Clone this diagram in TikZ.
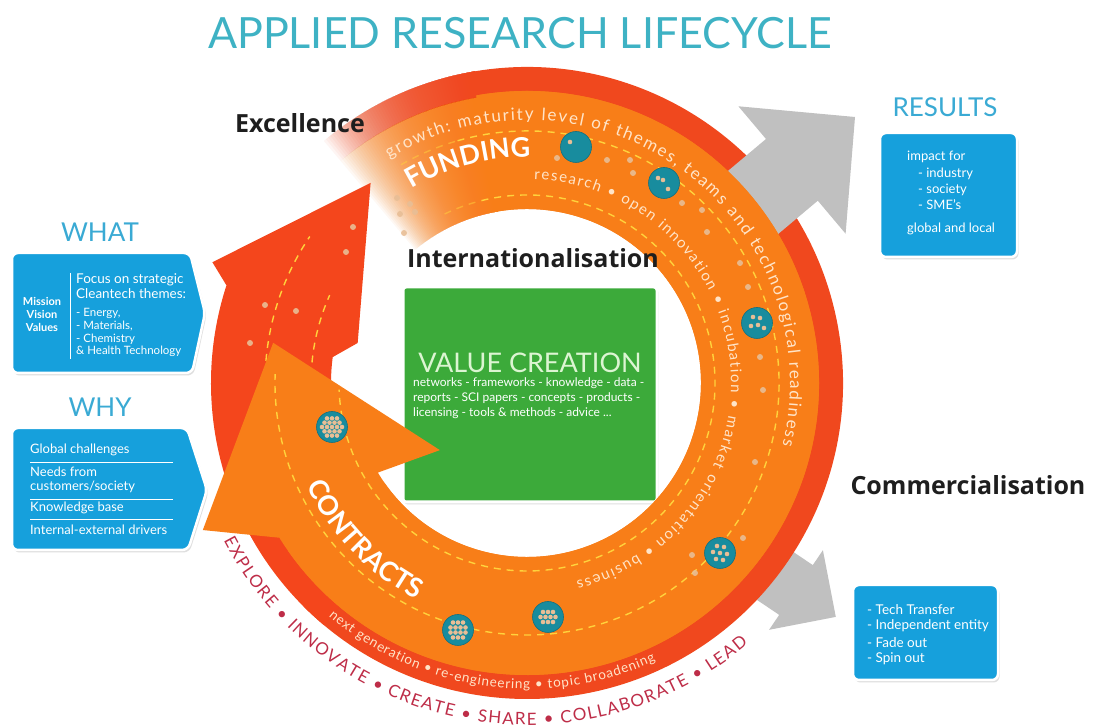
\documentclass[tikz,border=0pt]{standalone}
\usepackage{fontspec}
\setmainfont{Lato}
\newfontfamily\headfont{Open Sans}
\usetikzlibrary{decorations.text,shadows}

\definecolor{ttl}{RGB}{62,178,196}
\definecolor{lbl}{RGB}{58,170,212}
\definecolor{boxblue}{RGB}{22,160,220}
\definecolor{ringred}{RGB}{240,72,30}
\definecolor{arrowred}{RGB}{244,70,28}
\definecolor{ringor}{RGB}{248,126,24}
\definecolor{ringortwo}{RGB}{242,92,28}
\definecolor{grayone}{RGB}{192,192,192}
\definecolor{greenone}{RGB}{60,170,58}
\definecolor{vctext}{RGB}{220,245,210}
\definecolor{ringtxt}{RGB}{255,228,200}
\definecolor{crim}{RGB}{190,45,72}
\definecolor{tealone}{RGB}{24,140,158}
\definecolor{beige}{RGB}{232,190,150}
\definecolor{dashy}{RGB}{255,210,60}
\definecolor{darktxt}{RGB}{30,30,30}

\pgfdeclareradialshading{bandshade}{\pgfpoint{0bp}{0bp}}{color(0bp)=(ringor); color(40bp)=(ringor); color(47bp)=(ringortwo); color(50bp)=(ringortwo)}
\pgfdeclareradialshading{innershade}{\pgfpoint{0bp}{0bp}}{color(0bp)=(white); color(36bp)=(white); color(50bp)=(black!14)}

\newcommand\tsphere[3]{%
  \node[circle, fill=tealone, draw=tealone!80!black, line width=0.6pt, minimum size=31pt, inner sep=0pt] (#1) at #2 {};
  \begin{scope}[shift={#2}]
    \foreach \dx/\dy in {#3} \fill[beige] (\dx,\dy) circle (2.3);
  \end{scope}}

\begin{document}
\begin{tikzpicture}[x=1pt,y=1pt,
  bluebox/.style={fill=boxblue, draw=white, line width=2.5pt, rounded corners=6pt, drop shadow={opacity=0.25, shadow xshift=1.5pt, shadow yshift=-2.5pt}},
  boxtxt/.style={text=white, inner sep=0pt, align=left},
  sectlabel/.style={text=lbl, font=\fontsize{26}{26}\selectfont, inner sep=0pt},
  headline/.style={text=darktxt, font=\headfont\bfseries\fontsize{25}{25}\selectfont, inner sep=0pt},
  grayarrow/.style={fill=grayone},
  sepline/.style={white, line width=0.8pt},
  dashring/.style={dashy, line width=1.4pt, dash pattern=on 7pt off 6pt},
  bdot/.style={fill=beige, opacity=0.9},
  greenbox/.style={fill=greenone, draw=white, line width=3pt, rounded corners=3pt, minimum width=254pt, minimum height=215pt, drop shadow={opacity=0.25, shadow xshift=1.5pt, shadow yshift=-2.5pt}}
]
\useasboundingbox (0,0) rectangle (1093,728);
\fill[white] (0,0) rectangle (1093,728);

% lower gray arrow
\fill[grayarrow] (738.1,213.3) -- (812.8,162.9) -- (822.9,177.8) -- (835.8,111.1) -- (769.1,98.2) -- (779.2,113.1) -- (704.5,163.5) -- cycle;

\begin{scope}[shift={(527,345)}]
  \shade[shading=innershade] (0,0) circle (176);
  % outer red band
  \fill[ringred] (100:316) arc[start angle=100, end angle=-135, radius=316] -- (-135:290) arc[start angle=-135, end angle=100, radius=290] -- cycle;
  % fading start of the spiral
  \foreach \k in {1,...,60} {
    \pgfmathsetmacro\fa{100+0.5*\k}
    \fill[ringred, opacity=0.05] (\fa:316) arc[start angle=\fa, end angle=99.5, radius=316] -- (99.5:290) arc[start angle=99.5, end angle=\fa, radius=290] -- cycle;
    \begin{scope}
      \clip (\fa:290) arc[start angle=\fa, end angle=99.5, radius=290] -- (99.5:174) arc[start angle=99.5, end angle=\fa, radius=174] -- cycle;
      \shade[shading=bandshade, opacity=0.05] (0,0) circle (292);
    \end{scope}
  }
  % red arrow (Excellence)
  \fill[arrowred] (230:316) arc[start angle=230, end angle=162, radius=316] -- (159:337) -- (128:254) -- (166.7:174) -- (172.4:196) arc[start angle=172.4, end angle=230, radius=196] -- cycle;
  \draw[dashring] (178:262) arc[start angle=178, end angle=146, radius=262];
  \draw[dashring] (178:216) arc[start angle=178, end angle=156, radius=216];
\end{scope}

% upper gray arrow
\fill[grayarrow] (681.5,518) -- (766,589) -- (738.4,621.7) -- (855,611) -- (845.6,494.3) -- (817.8,527.3) -- (733.3,456.3) -- cycle;

% value creation box
\node[greenbox] (vc) at (530,333.5) {};
\node[text=vctext, font=\fontsize{27}{27}\selectfont, inner sep=0pt] (vctitle) at (530,365) {VALUE CREATION};
\node[boxtxt, anchor=north west, font=\fontsize{12}{15}\selectfont] (vcitems) at (413,351) {networks - frameworks - knowledge - data -\\reports - SCI papers - concepts - products -\\licensing - tools \& methods - advice ...};

\begin{scope}[shift={(527,345)}]
  % orange spiral arrow (Contracts)
  \fill[ringor] (100:292) arc[start angle=100, end angle=-148, radius=292] -- (204.4:356) -- (171:257) -- (217.6:110) -- (-149:174) arc[start angle=-149, end angle=100, radius=174] -- cycle;
  \begin{scope}
    \clip (100:292) arc[start angle=100, end angle=-145, radius=292] -- (-145:174) arc[start angle=-145, end angle=100, radius=174] -- cycle;
    \shade[shading=bandshade] (0,0) circle (292);
  \end{scope}
  \draw[dashring, opacity=0.5] (120:252) arc[start angle=120, end angle=106, radius=252];
  \draw[dashring] (106:252) arc[start angle=106, end angle=-182, radius=252];
  \draw[dashring, opacity=0.5] (116:188) arc[start angle=116, end angle=104, radius=188];
  \draw[dashring] (104:188) arc[start angle=104, end angle=-178, radius=188];
  % texts along the ring
  \path[decorate, decoration={text along path, text align={fit to path}, text={|\fontsize{17}{17}\selectfont\color{ringtxt}|growth: maturity level of themes, teams and technological readiness}}] (121.6:263) arc[start angle=121.6, end angle=-13.8, radius=263];
  \path[decorate, decoration={text along path, text align={fit to path}, text={|\fontsize{15}{15}\selectfont\color{ringtxt}|research • open innovation • incubation • market orientation • business}}] (88:204) arc[start angle=88, end angle=-76, radius=204];
  \path[decorate, decoration={text along path, text align=center, text={|\bfseries\fontsize{27}{27}\selectfont\color{white}|FUNDING}}] (125:226) arc[start angle=125, end angle=85, radius=226];
  \path[decorate, decoration={text along path, text align=center, text={|\bfseries\fontsize{27}{27}\selectfont\color{white}|CONTRACTS}}] (198:243) arc[start angle=198, end angle=250, radius=243];
  \path[decorate, decoration={text along path, text align={fit to path}, text={|\fontsize{13.5}{13.5}\selectfont\color{ringtxt}|next generation • re-engineering • topic broadening}}] (229.6:306) arc[start angle=229.6, end angle=294.8, radius=306];
  \path[decorate, decoration={text along path, text align={fit to path}, text={|\fontsize{17}{17}\selectfont\color{crim}|EXPLORE • INNOVATE • CREATE • SHARE • COLLABORATE • LEAD}}] (207.5:342) arc[start angle=207.5, end angle=310.3, radius=342];
\end{scope}

% scattered dots
\foreach \p in {(397,530),(410,524),(400,514),(415,516),(404,495),(557,570),(607,568),(630,568),(633,555),(682,525),(702,518),(707,496),(740,465),(748,441),(760,371),(763,338),(755,266),(743,190),(692,173),(695,155),(353,501),(346,476),(265,423),(296,417),(250,385)}
  \fill[bdot] \p circle (3);

% spheres
\tsphere{sa}{(576,581)}{-6/5}
\tsphere{sb}{(664,545)}{-6/5,-1/3,4/-6}
\tsphere{sc}{(757,405)}{-4/6,3/5,-6/-3,1/-2,7/-5}
\tsphere{sd}{(720,175)}{-3/7,4/6,-7/1,0/0,7/-1,-4/-6,3/-7}
\tsphere{se}{(548,111)}{-5/5,0/5,5/5,-7.5/0,-2.5/0,2.5/0,7.5/0,-5/-5,0/-5,5/-5}
\tsphere{sf}{(458,98)}{-5/7.5,0/7.5,5/7.5,-7.5/2.5,-2.5/2.5,2.5/2.5,7.5/2.5,-7.5/-2.5,-2.5/-2.5,2.5/-2.5,7.5/-2.5,-5/-7.5,0/-7.5,5/-7.5}
\tsphere{sg}{(332,301)}{-10/0,-5/0,0/0,5/0,10/0,-7.5/4.3,-2.5/4.3,2.5/4.3,7.5/4.3,-7.5/-4.3,-2.5/-4.3,2.5/-4.3,7.5/-4.3,-5/8.6,0/8.6,5/8.6,-5/-8.6,0/-8.6,5/-8.6}

% headings
\node[text=ttl, font=\fontsize{43}{43}\selectfont, inner sep=0pt] (title) at (520,695) {APPLIED RESEARCH LIFECYCLE};
\node[headline] (excel) at (300,605) {Excellence};
\node[headline] (intl) at (533,470) {Internationalisation};
\node[headline] (comm) at (968,243) {Commercialisation};

% WHAT
\node[sectlabel] (what) at (100,496) {WHAT};
\path[bluebox] (12,475) -- (190,475) -- (205,415) -- (192,355) -- (12,355) -- cycle;
\node[boxtxt, align=center, font=\bfseries\fontsize{11}{13}\selectfont] (mvv) at (42,414) {Mission\\Vision\\Values};
\draw[sepline] (70,455) -- (70,369);
\node[boxtxt, anchor=north west, font=\fontsize{13.5}{15}\selectfont] (focus) at (76,455) {Focus on strategic\\Cleantech themes:};
\node[boxtxt, anchor=north west, font=\fontsize{11.5}{12.8}\selectfont] (themes) at (76,420) {- Energy,\\- Materials,\\- Chemistry\\\& Health Technology};

% WHY
\node[sectlabel] (why) at (100,321) {WHY};
\path[bluebox] (12,300) -- (187,300) -- (207,238) -- (188,178) -- (12,178) -- cycle;
\node[boxtxt, anchor=west, font=\fontsize{13}{13}\selectfont] (wa) at (30,278) {Global challenges};
\draw[sepline] (30,266) -- (173,266);
\node[boxtxt, anchor=west, font=\fontsize{13}{13}\selectfont] (wb) at (30,256) {Needs from};
\node[boxtxt, anchor=west, font=\fontsize{13}{13}\selectfont] (wc) at (30,241) {customers/society};
\draw[sepline] (30,229) -- (173,229);
\node[boxtxt, anchor=west, font=\fontsize{13}{13}\selectfont] (wd) at (30,220) {Knowledge base};
\draw[sepline] (30,209) -- (173,209);
\node[boxtxt, anchor=west, font=\fontsize{13}{13}\selectfont] (we) at (30,198) {Internal-external drivers};

% RESULTS
\node[sectlabel] (res) at (945,621) {RESULTS};
\path[bluebox] (880,471) rectangle (1017,595);
\node[boxtxt, anchor=west, font=\fontsize{13}{13}\selectfont] (ra) at (907,571) {impact for};
\node[boxtxt, anchor=west, font=\fontsize{13}{13}\selectfont] (rb) at (918,554) {- industry};
\node[boxtxt, anchor=west, font=\fontsize{13}{13}\selectfont] (rc) at (918,538) {- society};
\node[boxtxt, anchor=west, font=\fontsize{13}{13}\selectfont] (rd) at (918,523) {- SME’s};
\node[boxtxt, anchor=west, font=\fontsize{13}{13}\selectfont] (re) at (907,499) {global and local};

% commercialisation box
\path[bluebox] (853,48) rectangle (998,143);
\node[boxtxt, anchor=west, font=\fontsize{13.5}{13.5}\selectfont] (ca) at (867,118) {- Tech Transfer};
\node[boxtxt, anchor=west, font=\fontsize{13.5}{13.5}\selectfont] (cb) at (867,102) {- Independent entity};
\node[boxtxt, anchor=west, font=\fontsize{13.5}{13.5}\selectfont] (cc) at (867,85) {- Fade out};
\node[boxtxt, anchor=west, font=\fontsize{13.5}{13.5}\selectfont] (cd) at (867,69) {- Spin out};
\end{tikzpicture}
\end{document}
